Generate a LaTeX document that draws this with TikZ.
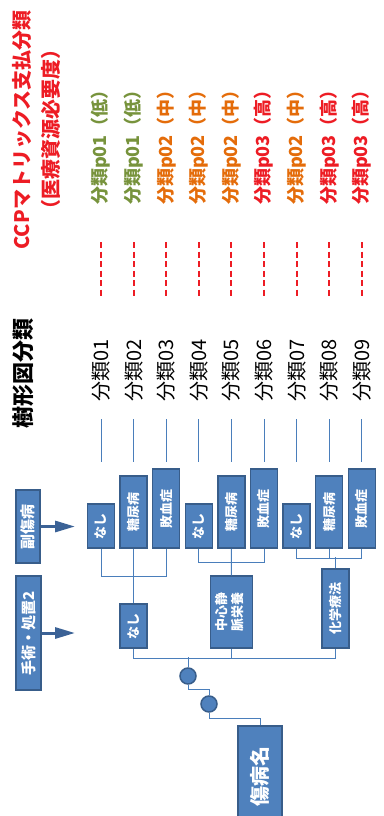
\documentclass[tikz,border=0pt]{standalone}
\usepackage{fontspec}
\setmainfont{Noto Sans CJK JP}
\usetikzlibrary{arrows.meta}
\definecolor{boxfill}{RGB}{79,129,189}
\definecolor{boxedge}{RGB}{56,93,138}
\definecolor{linkblue}{RGB}{74,126,187}
\definecolor{arrowblue}{RGB}{59,98,150}
\definecolor{lowgreen}{RGB}{119,147,60}
\definecolor{midorange}{RGB}{228,108,10}
\definecolor{highred}{RGB}{237,28,36}
\newcommand{\myfs}[1]{\fontsize{#1}{#1}\selectfont}
\begin{document}
\begin{tikzpicture}[x=1pt,y=-1pt,
  bluebox/.style={draw=boxedge, fill=boxfill, line width=1.5pt, inner sep=0pt, text=white, font=\bfseries\myfs{13}},
  joint/.style={circle, draw=boxedge, fill=boxfill, line width=1.5pt, minimum size=16pt, inner sep=0pt},
  link/.style={draw=linkblue, line width=0.9pt},
  vlabel/.style={rotate=90, inner sep=0pt},
  reddash/.style={draw=highred, line width=2pt, dash pattern=on 6pt off 3.5pt},
  sidearrow/.style={draw=arrowblue, line width=3pt, -{Triangle[length=20pt,width=11pt]}}]
\path[use as bounding box] (0,0) rectangle (383,816);
\clip (0,0) rectangle (383,816);

% titles
\node[vlabel, text=highred, font=\bfseries\myfs{20}] (t1) at (22,130) {CCPマトリックス支払分類};
\node[vlabel, text=highred, font=\bfseries\myfs{20}] (t2) at (51,129) {（医療資源必要度）};
\node[vlabel, font=\bfseries\myfs{22}] (tree) at (23,373) {樹形図分類};

% columns
\foreach \i/\col/\lvl/\pp in {1/lowgreen/低/01, 2/lowgreen/低/01, 3/midorange/中/02, 4/midorange/中/02, 5/midorange/中/02, 6/highred/高/03, 7/midorange/中/02, 8/highred/高/03, 9/highred/高/03}{
  \pgfmathsetmacro\cx{101+32.6*(\i-1)}
  \node[vlabel, text=\col, font=\bfseries\myfs{18}] (p\i) at (\cx,143) {分類p\pp（\lvl）};
  \coordinate (da\i) at (\cx,242);
  \coordinate (db\i) at (\cx,298);
  \draw[reddash] (da\i) -- (db\i);
  \node[vlabel, font=\myfs{20}] (k\i) at (\cx,370) {分類0\i};
  \coordinate (ua\i) at (\cx,419);
  \coordinate (ub\i) at (\cx,462);
  \draw[link] (ua\i) -- (ub\i);
}

% leaf boxes (副傷病)
\foreach \g in {0,1,2}{
  \pgfmathsetmacro\xa{101+32.6*(3*\g)}
  \pgfmathsetmacro\xb{101+32.6*(3*\g+1)}
  \pgfmathsetmacro\xc{101+32.6*(3*\g+2)}
  \pgfmathtruncatemacro\na{3*\g+1}
  \pgfmathtruncatemacro\nb{3*\g+2}
  \pgfmathtruncatemacro\nc{3*\g+3}
  \node[bluebox, minimum width=27pt, minimum height=44pt] (l\na) at (\xa,526) {\rotatebox{90}{なし}};
  \node[bluebox, minimum width=27pt, minimum height=72pt] (l\nb) at (\xb,512) {\rotatebox{90}{糖尿病}};
  \node[bluebox, minimum width=27pt, minimum height=79pt] (l\nc) at (\xc,508.5) {\rotatebox{90}{敗血症}};
}

% second level boxes (手術・処置2)
\node[bluebox, minimum width=27pt, minimum height=44pt] (m1) at (133.6,626) {\rotatebox{90}{なし}};
\node[bluebox, minimum width=42pt, minimum height=72pt, font=\bfseries\fontsize{13}{15}\selectfont] (m2) at (231.4,612) {\rotatebox{90}{\begin{tabular}{@{}c@{}}中心静\\脈栄養\end{tabular}}};
\node[bluebox, minimum width=27pt, minimum height=79pt] (m3) at (335.6,608.5) {\rotatebox{90}{化学療法}};

% group connectors
\draw[link] (l1.south) -- ++(0,28) -| (l3.south);
\draw[link] (l2.south) -- (m1.north);
\draw[link] (l4.south) -- ++(0,14) -| (l6.south);
\draw[link] (l5.south) -- (m2.north);
\draw[link] (l7.south) -- ++(0,10) -| (l9.south);
\draw[link] (l8.south) -- ++(0,10);
\draw[link] (m3.north) -- ++(0,-11);

% joints and root
\node[joint] (c1) at (188,676) {};
\node[joint] (c2) at (209,704) {};
\node[bluebox, minimum width=44pt, minimum height=100pt, font=\bfseries\myfs{20}] (root) at (260,776) {\rotatebox{90}{傷病名}};

\draw[link] (m1.south) -- ++(0,10) -| (m3.south);
\draw[link] (m2.south) -- ++(0,10);
\draw[link] (c1.north) -- ++(0,-10);
\draw[link] (c1.south) -- ++(0,5) -| (c2.north);
\draw[link] (c2.south) -- ++(0,6) -| (root.north);

% side labels
\node[bluebox, minimum width=24pt, minimum height=73pt, font=\bfseries\myfs{15}] (fuku) at (28,526.5) {\rotatebox{90}{副傷病}};
\node[bluebox, minimum width=25pt, minimum height=114pt, font=\bfseries\myfs{15}] (shu) at (28.5,633) {\rotatebox{90}{手術・処置2}};
\coordinate (fukutip) at (75,526.5);
\coordinate (shutip) at (75,633);
\draw[sidearrow] (fuku.east) -- (fukutip);
\draw[sidearrow] (shu.east) -- (shutip);
\end{tikzpicture}
\end{document}
